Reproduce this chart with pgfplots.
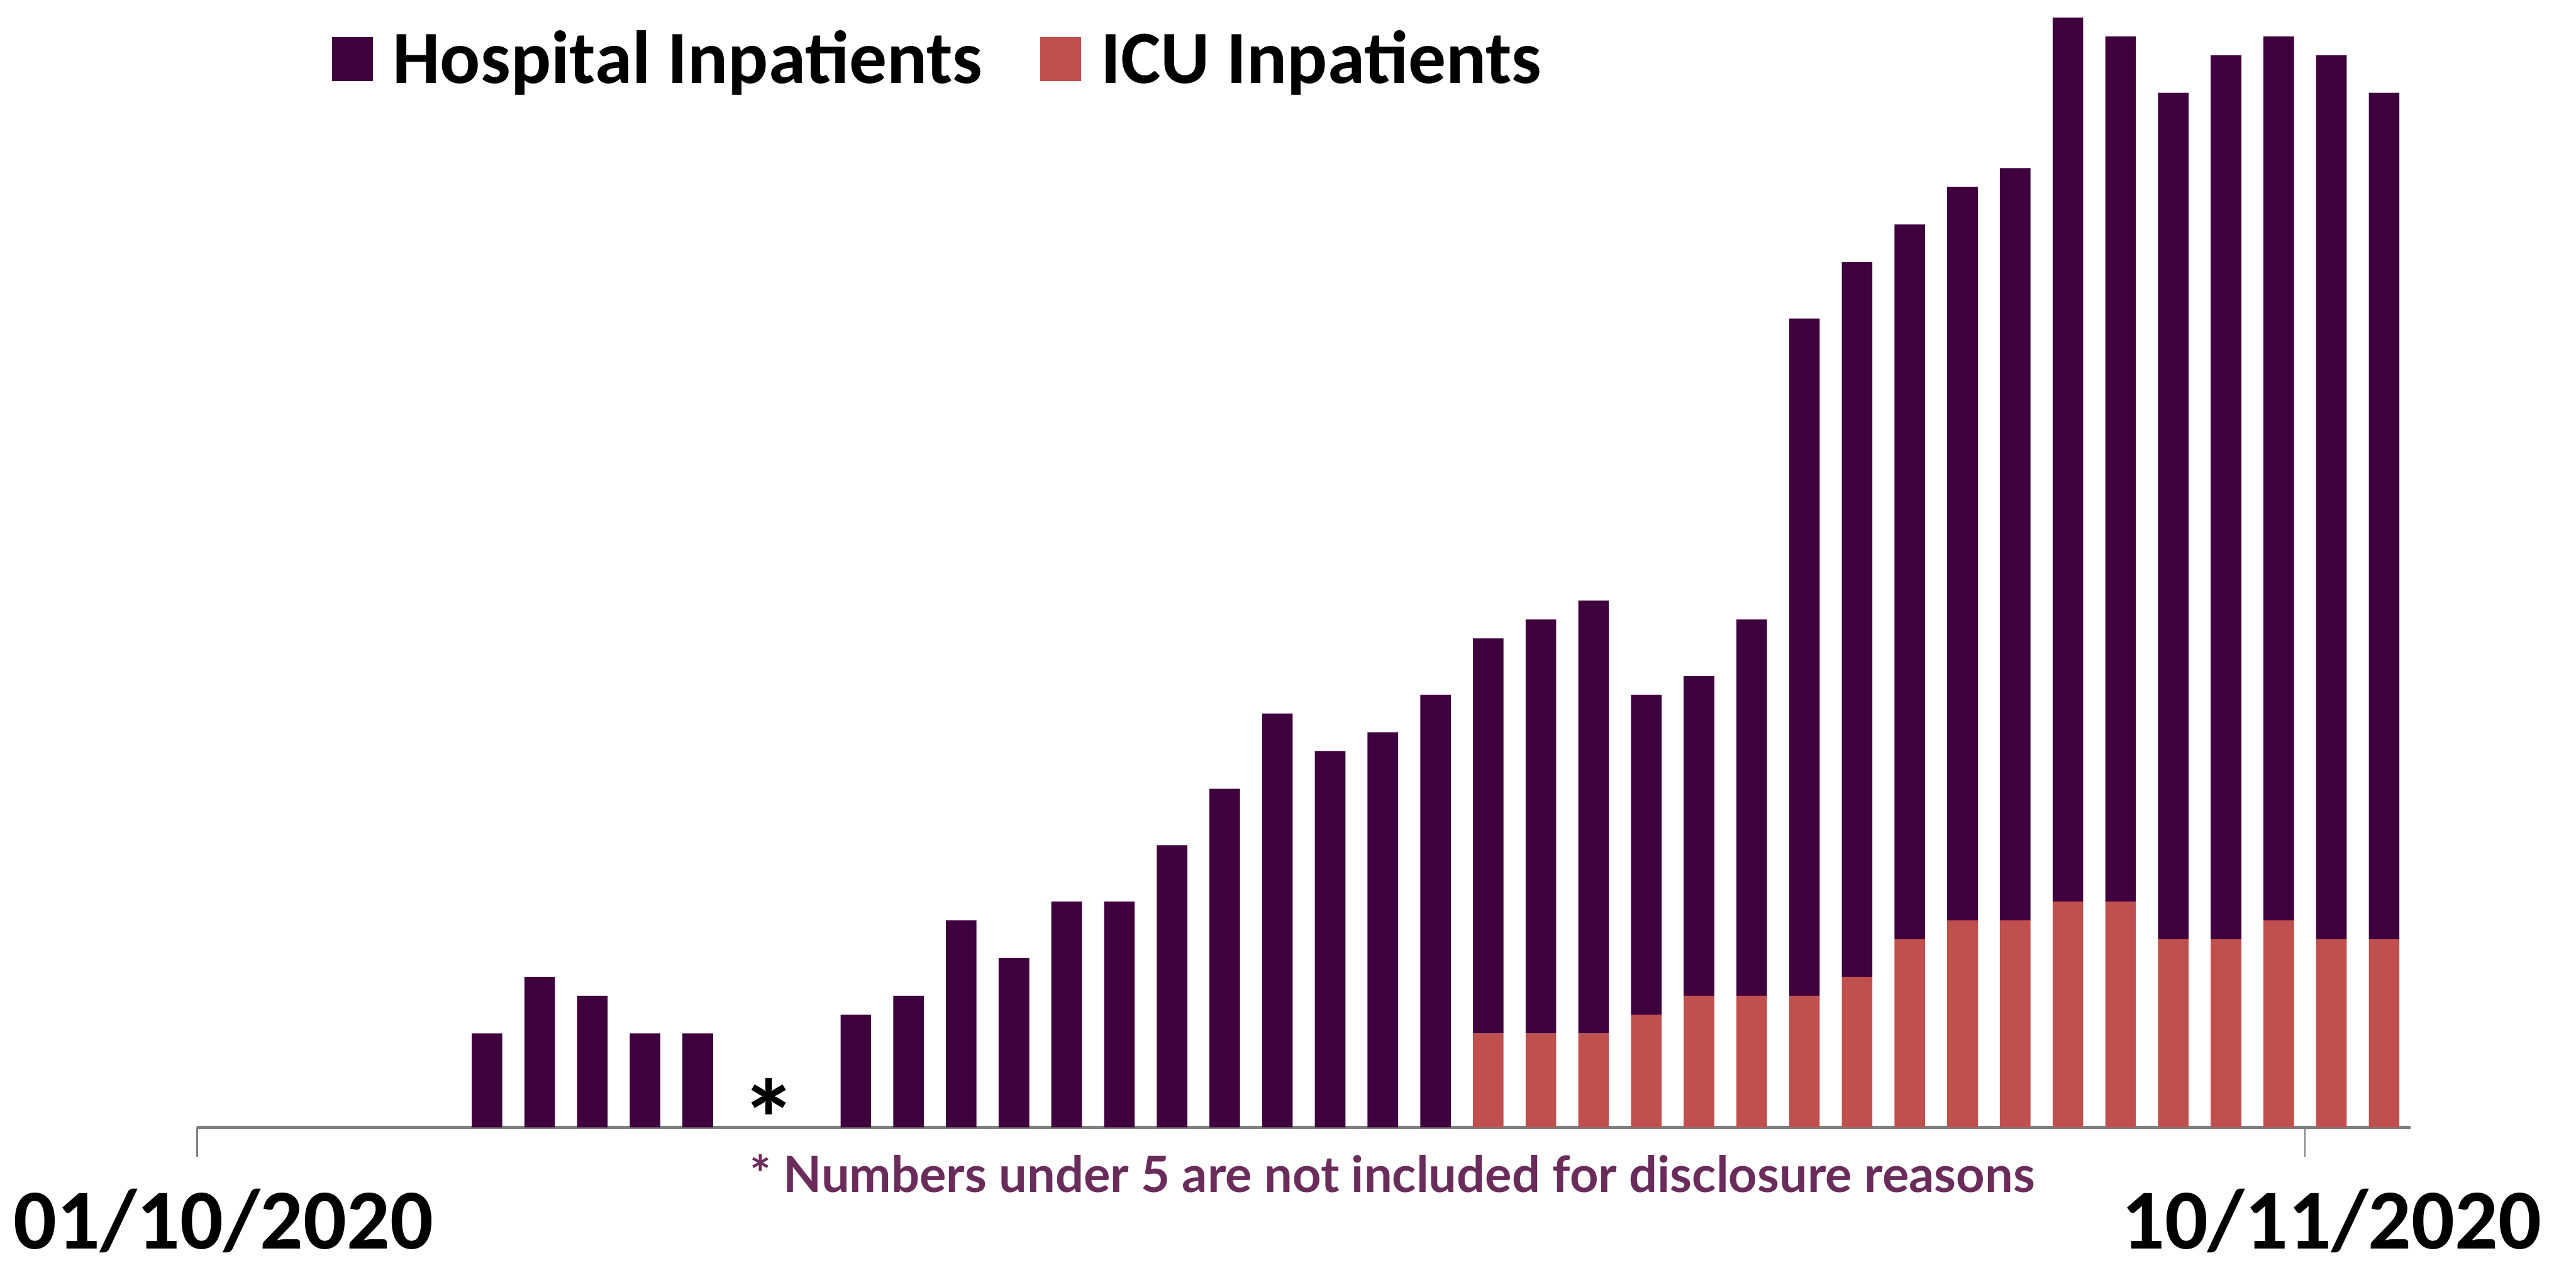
\documentclass[border=0pt]{standalone}
\usepackage{pgfplots}
\pgfplotsset{compat=1.18}
\usepackage{pgfplotstable}
\usepackage{fontspec}
\setmainfont{Carlito}
\newfontfamily\lato{Lato}
\definecolor{hosp}{RGB}{63,0,62}
\definecolor{icu}{RGB}{192,80,77}
\definecolor{note}{RGB}{106,44,91}

\pgfplotstableread{
x icu hosp
5.5 0 5
6.5 0 8
7.5 0 7
8.5 0 5
9.5 0 5
12.5 0 6
13.5 0 7
14.5 0 11
15.5 0 9
16.5 0 12
17.5 0 12
18.5 0 15
19.5 0 18
20.5 0 22
21.5 0 20
22.5 0 21
23.5 0 23
24.5 5 21
25.5 5 22
26.5 5 23
27.5 6 17
28.5 7 17
29.5 7 20
30.5 7 36
31.5 8 38
32.5 10 38
33.5 11 39
34.5 11 40
35.5 12 47
36.5 12 46
37.5 10 45
38.5 10 47
39.5 11 47
40.5 10 47
41.5 10 45
}\datatable

\begin{document}
\begin{tikzpicture}
\useasboundingbox (-60pt,-41.25pt) rectangle (724pt,343.25pt);
\begin{axis}[
  scale only axis,
  width=673.6pt, height=337.9pt,
  xmin=0, xmax=42, ymin=0, ymax=59,
  axis x line*=bottom, axis y line=none,
  x axis line style={draw=gray, line width=0.9pt},
  ybar stacked, bar width=0.58,
  xtick={0,40},
  xticklabels={01/10/2020,10/11/2020},
  tick align=outside,
  major tick length=9pt,
  xtick style={draw=gray, line width=0.4pt},
  xticklabel style={font=\bfseries\fontsize{26}{30}\selectfont, anchor=north, inner sep=0pt, xshift=8pt, yshift=-9.5pt},
  ytick=\empty,
  clip=false,
  reverse legend,
  legend columns=2,
  legend style={at={(0.0609,0.9626)}, anchor=west, draw=none, fill=none,
    font=\bfseries\fontsize{22.9}{27}\selectfont,
    inner sep=0pt, outer sep=0pt,
    nodes={inner sep=0pt, outer sep=0pt},
    /tikz/every odd column/.append style={column sep=6pt},
    /tikz/every even column/.append style={column sep=17.5pt}},
  legend image code/.code={\fill[#1] (0pt,-6.7pt) rectangle (12.5pt,6.7pt);},
]
\addplot[fill=icu, draw=none] table[x=x, y=icu] {\datatable};
\addlegendentry{ICU Inpatients}
\addplot[fill=hosp, draw=none] table[x=x, y=hosp] {\datatable};
\addlegendentry{Hospital Inpatients}
\node[font=\bfseries\fontsize{34}{34}\selectfont, anchor=base, inner sep=0pt] at (axis cs:10.85,0) [yshift=0.75pt] {\raisebox{-10.2pt}[11.9pt][0pt]{*}};
\end{axis}
\node[font=\lato\bfseries\fontsize{15.2}{18}\selectfont, text=note, anchor=base, inner sep=0pt] at (363.75pt,-19.75pt) {* Numbers under 5 are not included for disclosure reasons};
\end{tikzpicture}
\end{document}
